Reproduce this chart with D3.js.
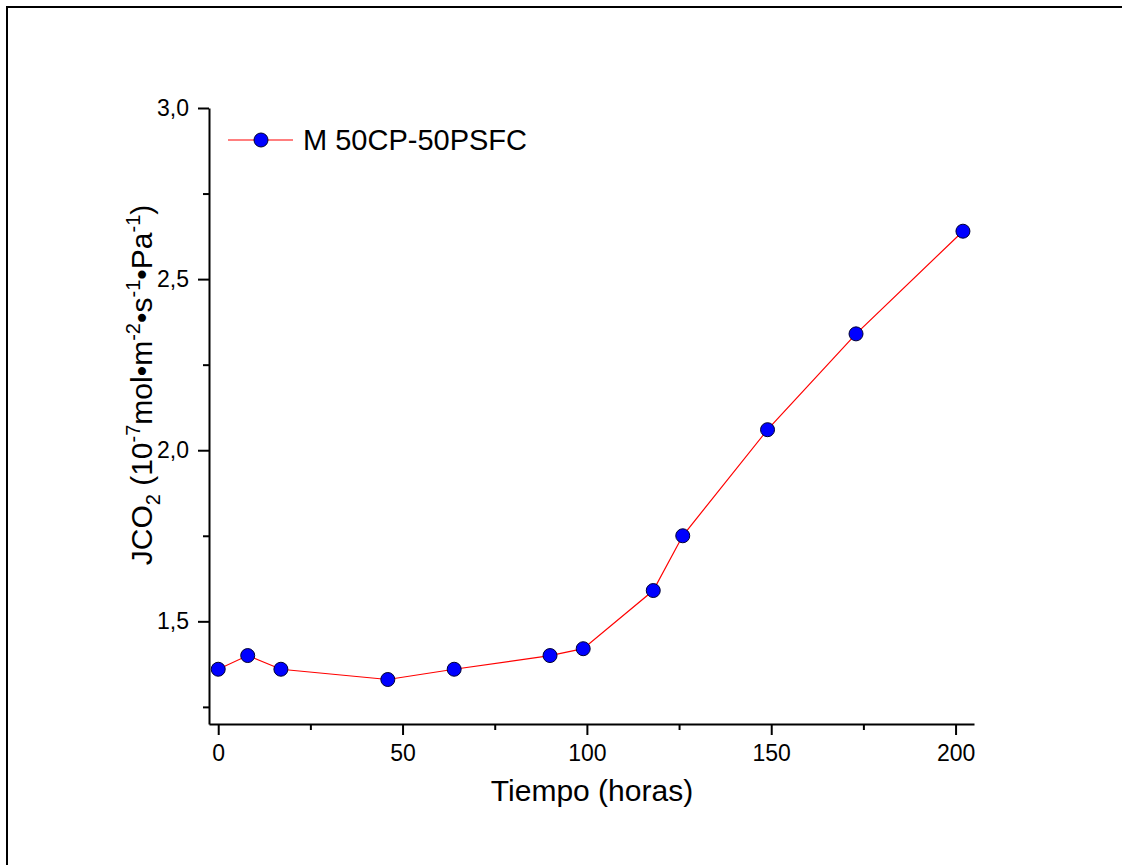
<!DOCTYPE html>
<html>
<head>
<meta charset="utf-8">
<script src="https://cdn.jsdelivr.net/npm/d3@7"></script>
<style>
  html, body { margin: 0; padding: 0; background: #fff; overflow: hidden; }
  svg { display: block; }
  text { font-family: "Liberation Sans", Arial, sans-serif; fill: #000; }
</style>
</head>
<body>
<svg id="chart" width="1122" height="865"></svg>
<script>
// Measurement series: time (hours) vs CO2 flux
const seriesName = "M 50CP-50PSFC";
const hours = [0, 8, 17, 46, 64, 90, 99, 118, 126, 149, 173, 202];
const flux  = [1.36, 1.40, 1.36, 1.33, 1.36, 1.40, 1.42, 1.59, 1.75, 2.06, 2.34, 2.64];

const xMajorTicks = [0, 50, 100, 150, 200];
const xMinorTicks = [25, 75, 125, 175];
const yMajorTicks = [1.5, 2.0, 2.5, 3.0];
const yMinorTicks = [1.25, 1.75, 2.25, 2.75];

const svg = d3.select("#chart");

// outer frame (top and left edges; the rest runs off the page)
svg.append("line").attr("x1", 6).attr("x2", 1122).attr("y1", 7).attr("y2", 7)
  .attr("stroke", "#000").attr("stroke-width", 2);
svg.append("line").attr("x1", 7).attr("x2", 7).attr("y1", 6).attr("y2", 865)
  .attr("stroke", "#000").attr("stroke-width", 2);

const x = d3.scaleLinear().domain([-2.5, 205]).range([209, 974]);
const y = d3.scaleLinear().domain([1.2, 3.0]).range([724, 108]);

const fmt = d => d3.format(".1f")(d).replace(".", ",");

// x axis
svg.append("g").attr("transform", "translate(0,724)")
  .call(d3.axisBottom(x).tickValues(xMajorTicks).tickSize(11).tickPadding(10).tickSizeOuter(0))
  .call(g => g.select(".domain").attr("stroke-width", 2))
  .call(g => g.selectAll(".tick line").attr("stroke-width", 2))
  .call(g => g.selectAll("text").attr("font-size", 23).attr("font-family", "Liberation Sans, Arial, sans-serif"));
svg.append("g").attr("transform", "translate(0,724)")
  .call(d3.axisBottom(x).tickValues(xMinorTicks).tickSize(6).tickFormat("").tickSizeOuter(0))
  .call(g => g.select(".domain").remove())
  .call(g => g.selectAll(".tick line").attr("stroke-width", 2));

// y axis
svg.append("g").attr("transform", "translate(209,0)")
  .call(d3.axisLeft(y).tickValues(yMajorTicks).tickFormat(fmt).tickSize(11).tickPadding(9).tickSizeOuter(0))
  .call(g => g.select(".domain").attr("stroke-width", 2))
  .call(g => g.selectAll(".tick line").attr("stroke-width", 2))
  .call(g => g.selectAll("text").attr("font-size", 23).attr("font-family", "Liberation Sans, Arial, sans-serif"));
svg.append("g").attr("transform", "translate(209,0)")
  .call(d3.axisLeft(y).tickValues(yMinorTicks).tickSize(6).tickFormat("").tickSizeOuter(0))
  .call(g => g.select(".domain").remove())
  .call(g => g.selectAll(".tick line").attr("stroke-width", 2));

// axis titles
svg.append("text")
  .attr("x", 592).attr("y", 801)
  .attr("text-anchor", "middle")
  .attr("font-size", 30)
  .text("Tiempo (horas)");

const yt = svg.append("text")
  .attr("transform", "translate(152,385) rotate(-90)")
  .attr("text-anchor", "middle")
  .attr("font-size", 30);
const parts = [
  ["JCO", 0], ["2", 1], [" (10", -1], ["-7", 2], ["mol\u2022m", -2], ["-2", 2],
  ["\u2022s", -2], ["-1", 2], ["\u2022Pa", -2], ["-1", 2], [")", -2]
];
// 0: normal, 1: subscript, 2: superscript, -1: back from subscript, -2: back from superscript
parts.forEach(([t, k]) => {
  const ts = yt.append("tspan").text(t);
  if (k === 1) ts.attr("dy", 8).attr("font-size", 20);
  else if (k === -1) ts.attr("dy", -8);
  else if (k === 2) ts.attr("dy", -12).attr("font-size", 20);
  else if (k === -2) ts.attr("dy", 12);
});

// series line and markers
const line = d3.line().x((d, i) => x(hours[i])).y(d => y(d));
svg.append("path")
  .datum(flux)
  .attr("d", line)
  .attr("fill", "none")
  .attr("stroke", "#ff0000")
  .attr("stroke-width", 1.2);

svg.append("g").selectAll("circle")
  .data(flux)
  .join("circle")
  .attr("cx", (d, i) => x(hours[i]))
  .attr("cy", d => y(d))
  .attr("r", 7)
  .attr("fill", "#0000ff")
  .attr("stroke", "#000033")
  .attr("stroke-width", 1);

// legend
const lg = svg.append("g");
lg.append("line")
  .attr("x1", 228).attr("x2", 293).attr("y1", 140).attr("y2", 140)
  .attr("stroke", "#ff0000").attr("stroke-width", 1.2);
lg.append("circle")
  .attr("cx", 261).attr("cy", 140).attr("r", 7)
  .attr("fill", "#0000ff").attr("stroke", "#000033").attr("stroke-width", 1);
lg.append("text")
  .attr("x", 303).attr("y", 150)
  .attr("font-size", 29)
  .text(seriesName);
</script>
</body>
</html>
